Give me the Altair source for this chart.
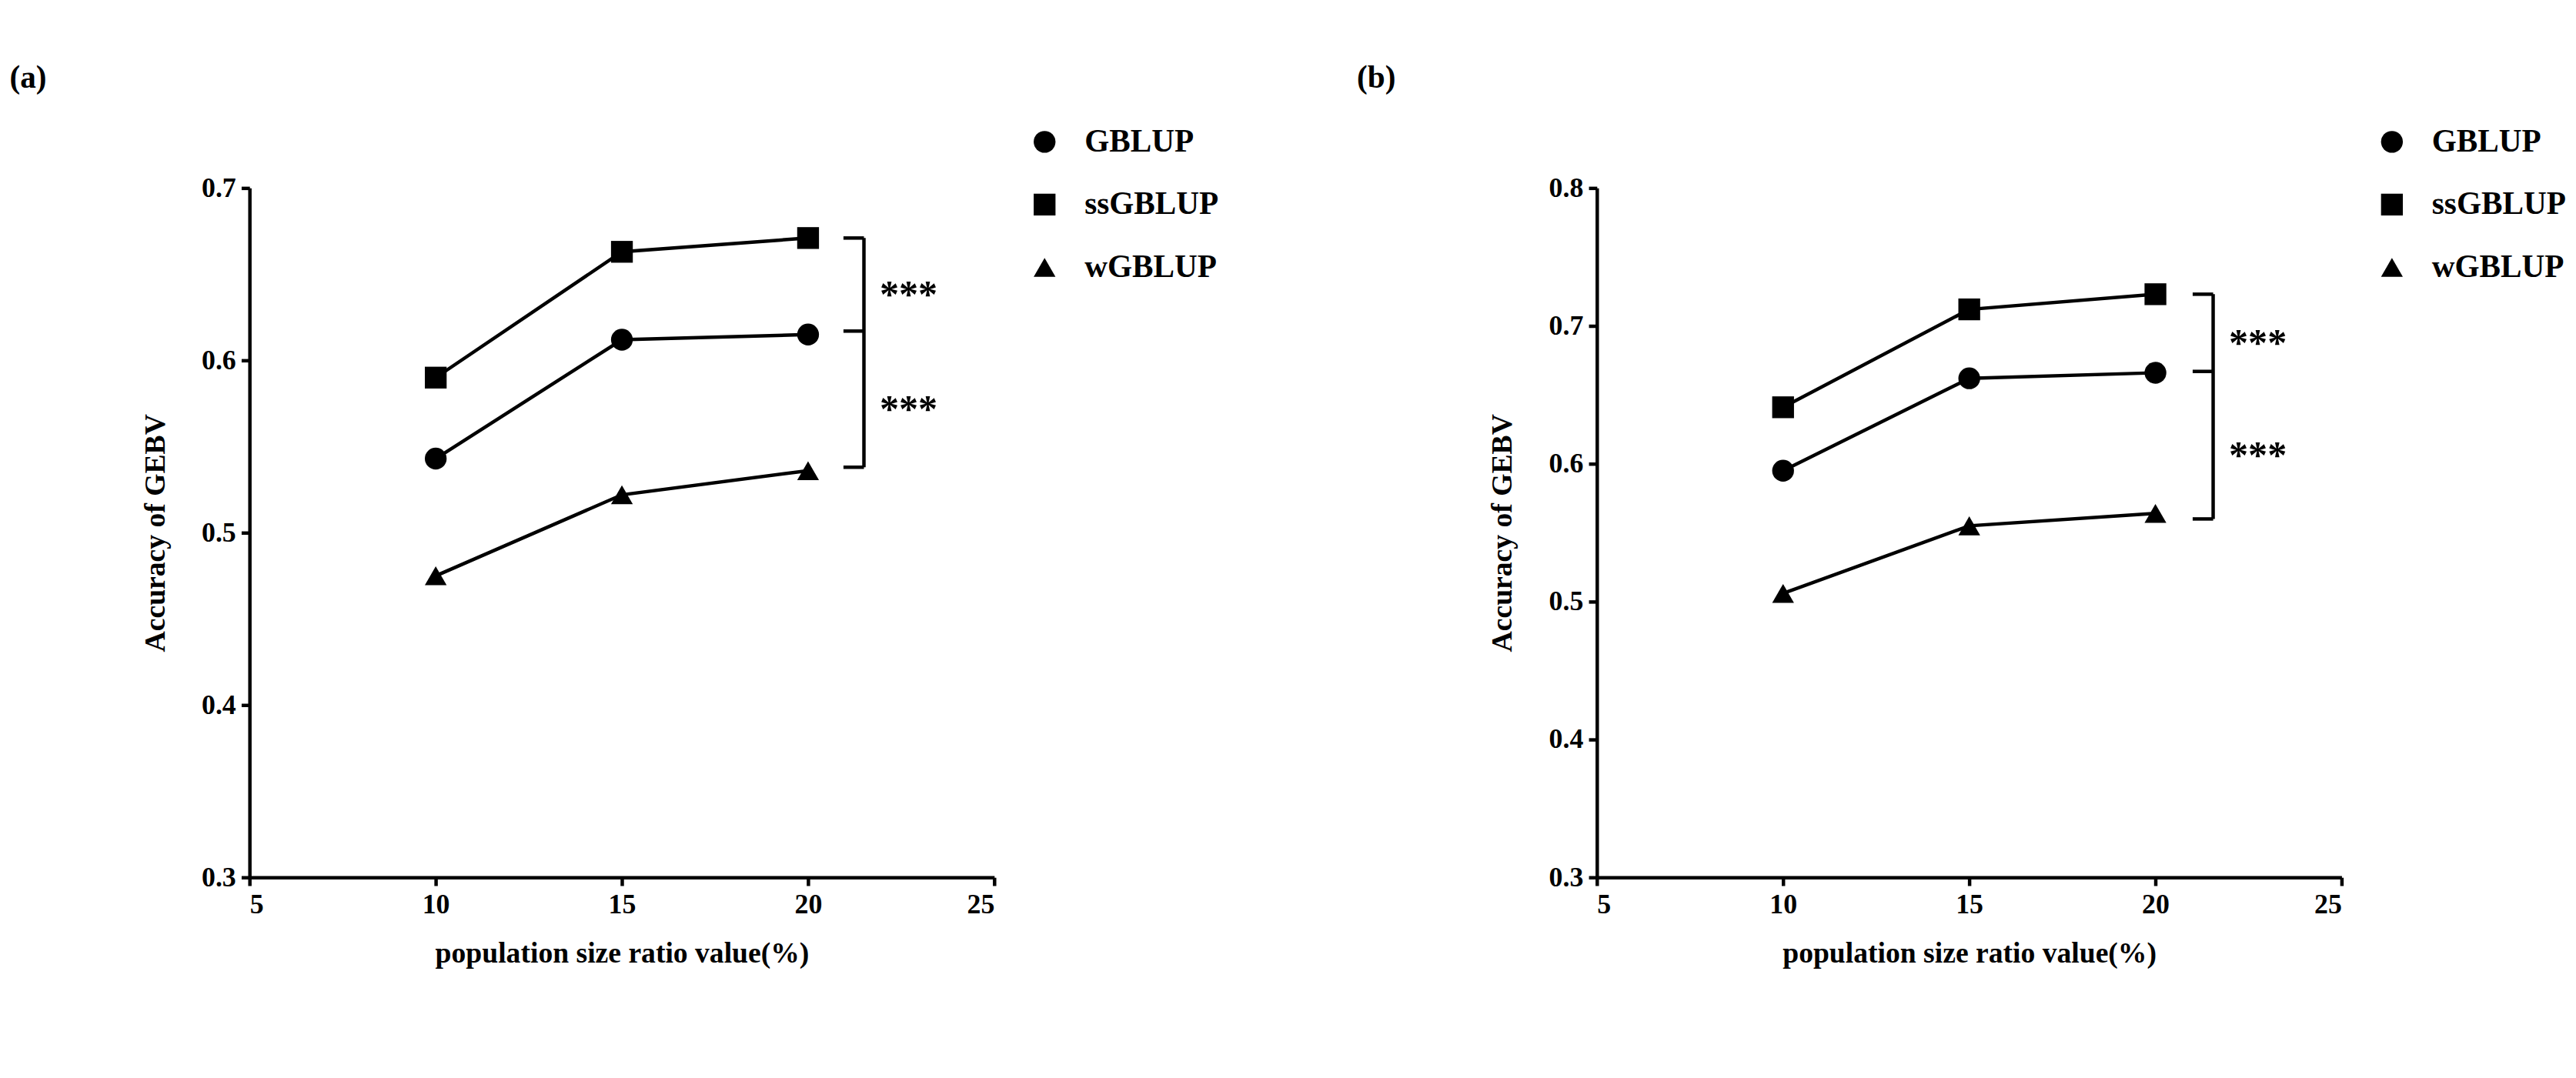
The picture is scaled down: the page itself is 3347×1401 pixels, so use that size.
import altair as alt
import pandas as pd

ratios = [10, 15, 20]
methods = ["GBLUP", "ssGBLUP", "wGBLUP"]

a_gblup = [0.543, 0.612, 0.615]
a_ssgblup = [0.590, 0.663, 0.671]
a_wgblup = [0.475, 0.522, 0.536]

b_gblup = [0.595, 0.662, 0.666]
b_ssgblup = [0.641, 0.712, 0.723]
b_wgblup = [0.506, 0.555, 0.564]

# significance brackets: top, middle, bottom
a_bracket = [0.671, 0.617, 0.538]
b_bracket = [0.723, 0.667, 0.560]

FONT = "Liberation Serif"


def long_df(g, ss, w):
    rows = []
    for name, vals in zip(methods, [g, ss, w]):
        for x, v in zip(ratios, vals):
            rows.append({"ratio": x, "acc": v, "method": name})
    return pd.DataFrame(rows)


def panel(df, bracket, ymin, ymax, label, bx):
    yticks = [round(ymin + 0.1 * i, 1) for i in range(int(round((ymax - ymin) / 0.1)) + 1)]
    x = alt.X("ratio:Q", title="population size ratio value(%)",
              scale=alt.Scale(domain=[5, 25], nice=False),
              axis=alt.Axis(values=[5, 10, 15, 20, 25], titlePadding=30))
    y = alt.Y("acc:Q", title="Accuracy of GEBV",
              scale=alt.Scale(domain=[ymin, ymax], nice=False, zero=False),
              axis=alt.Axis(values=yticks, format=".1f", titlePadding=45))
    base = alt.Chart(df)
    lines = base.mark_line(color="black", strokeWidth=5).encode(x=x, y=y, detail="method:N")
    pts = base.mark_point(filled=True, opacity=1, size=1000, color="black").encode(
        x=x, y=y,
        shape=alt.Shape("method:N", sort=methods,
                        scale=alt.Scale(domain=methods, range=["circle", "square", "triangle-up"]),
                        legend=alt.Legend(title=None, orient="none", legendX=1130, legendY=-90,
                                          symbolSize=1000, symbolFillColor="black",
                                          symbolStrokeColor="black", labelFontSize=46,
                                          labelFont=FONT, labelFontWeight="bold",
                                          labelLimit=0, rowPadding=45, labelOffset=35)),
    )
    bdf = pd.DataFrame({
        "x1": [bx, bx - 0.55, bx - 0.55, bx - 0.55],
        "x2": [bx, bx, bx, bx],
        "y1": [bracket[0], bracket[0], bracket[1], bracket[2]],
        "y2": [bracket[2], bracket[0], bracket[1], bracket[2]],
    })
    br = alt.Chart(bdf).mark_rule(color="black", strokeWidth=5).encode(
        x="x1:Q", x2="x2:Q", y="y1:Q", y2="y2:Q")
    sdf = pd.DataFrame({"x": [bx + 1.2, bx + 1.2],
                        "y": [(bracket[0] + bracket[1]) / 2, (bracket[1] + bracket[2]) / 2],
                        "t": ["***", "***"]})
    stars = alt.Chart(sdf).mark_text(fontSize=56, font=FONT, fontWeight="bold", dy=16).encode(
        x="x:Q", y="y:Q", text="t:N")
    return alt.layer(lines, pts, br, stars).properties(
        width=1080, height=1000,
        title=alt.TitleParams(label, anchor="start", dx=-190, fontSize=46, font=FONT,
                              fontWeight="bold", offset=45),
    )


pa = panel(long_df(a_gblup, a_ssgblup, a_wgblup), a_bracket, 0.3, 0.7, "(a)", 21.5)
pb = panel(long_df(b_gblup, b_ssgblup, b_wgblup), b_bracket, 0.3, 0.8, "(b)", 21.55)

chart = alt.hconcat(pa, pb, spacing=200).resolve_legend(shape="independent").configure_view(
    stroke=None
).configure_axis(
    grid=False, domainColor="black", domainWidth=5, tickColor="black", tickWidth=5,
    tickSize=12, labelFont=FONT, labelFontSize=40, labelFontWeight="bold", labelColor="black",
    titleFont=FONT, titleFontSize=42, titleFontWeight="bold", titleColor="black", labelPadding=8,
).properties(padding={"left": 5, "top": 5, "right": 5, "bottom": 5})

chart.save("out.html", embed_options={"renderer": "svg", "actions": False})
